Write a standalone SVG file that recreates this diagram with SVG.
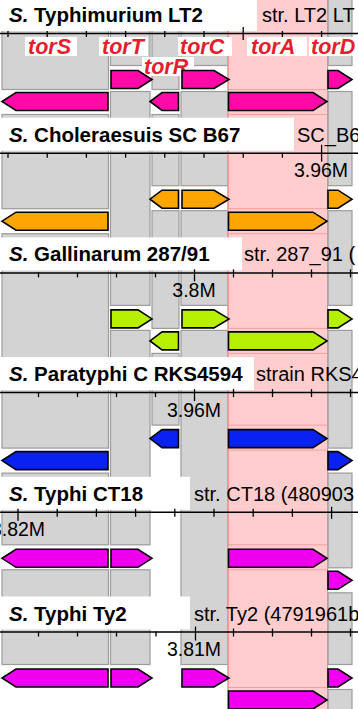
<svg xmlns="http://www.w3.org/2000/svg" width="358" height="709" viewBox="0 0 358 709">
<defs>
<style>
.gb{fill:#d3d3d3;stroke:#9c9c9c;stroke-width:1.2}
.pk{fill:#ffcdcd;stroke:#f2a0a0;stroke-width:1}
.tb{fill:#fff}
.ttl{font-family:"Liberation Sans",Arial,sans-serif;font-weight:bold;font-size:20.5px;fill:#000}
.str{font-family:"Liberation Sans",Arial,sans-serif;font-size:20px;fill:#000}
.pos{font-family:"Liberation Sans",Arial,sans-serif;font-size:19.5px;fill:#000;text-anchor:middle}
.lbl{font-family:"Liberation Sans",Arial,sans-serif;font-weight:bold;font-style:italic;font-size:21.5px;fill:#e3202b}
.ax{stroke:#000;stroke-width:1.5}
.tk{stroke:#000;stroke-width:1.3}
.g{stroke:#000;stroke-width:1.6;stroke-linejoin:miter}
.r1{fill:#ff0aa8}.r2{fill:#ffa500}.r3{fill:#b6f000}.r4{fill:#0a22f0}.r5{fill:#ee00ee}.r6{fill:#f000ee}
</style>
<path id="torS_T" d="M108,70.5 H16 L2,79.5 L16,88.5 H108 Z"/>
<path id="torS_B" d="M108,92.5 H16 L2,101.5 L16,110.5 H108 Z"/>
<path id="torT_T" d="M111,70.5 H138 L152,79.5 L138,88.5 H111 Z"/>
<path id="torR_T" d="M178.5,70.5 H162 L150,79.5 L162,88.5 H178.5 Z"/>
<path id="torR_B" d="M178.5,92.5 H162 L150,101.5 L162,110.5 H178.5 Z"/>
<path id="torC_T" d="M182,70.5 H214 L229,79.5 L214,88.5 H182 Z"/>
<path id="torA_T" d="M228.5,70.5 H313 L327,79.5 L313,88.5 H228.5 Z"/>
<path id="torA_B" d="M228.5,92.5 H313 L327,101.5 L313,110.5 H228.5 Z"/>
<path id="torD_T" d="M328,70.5 H338 L352,79.5 L338,88.5 H328 Z"/>
<path id="torD_B" d="M328,92.5 H338 L352,101.5 L338,110.5 H328 Z"/>
</defs>
<rect width="358" height="709" fill="#fff"/>

<g id="columns">
<g id="col-torS">
<rect class="gb" x="2" y="-2" width="106.5" height="91.5"/>
<rect class="gb" x="2" y="114.5" width="106.5" height="94.2"/>
<rect class="gb" x="2" y="233.7" width="106.5" height="214.4"/>
<rect class="gb" x="2" y="473.1" width="106.5" height="71.7"/>
<rect class="gb" x="2" y="569.8" width="106.5" height="94.7"/>
</g>
<g id="col-torT">
<rect class="gb" x="110.5" y="-2" width="39.5" height="67.5"/>
<rect class="gb" x="110.5" y="91.5" width="39.5" height="213.9"/>
<rect class="gb" x="110.5" y="330.4" width="39.5" height="214.4"/>
<rect class="gb" x="110.5" y="569.8" width="39.5" height="94.7"/>
</g>
<g id="col-torR">
<rect class="gb" x="152" y="-2" width="27" height="91.5"/>
<rect class="gb" x="152" y="114.5" width="27" height="71.2"/>
<rect class="gb" x="152" y="210.7" width="27" height="117.7"/>
<rect class="gb" x="152" y="353.4" width="27" height="71.7"/>
</g>
<g id="col-torC">
<rect class="gb" x="181" y="-2" width="47" height="67.5"/>
<rect class="gb" x="181" y="91.5" width="47" height="94.2"/>
<rect class="gb" x="181" y="210.7" width="47" height="94.7"/>
<rect class="gb" x="181" y="330.4" width="47" height="334.1"/>
</g>
<g id="col-torA">
<rect x="228" y="0" width="99.5" height="709" fill="#ffcdcd"/>
<rect class="pk" x="228" y="-2" width="99.5" height="91.5"/>
<rect class="pk" x="228" y="114.5" width="99.5" height="94.2"/>
<rect class="pk" x="228" y="233.7" width="99.5" height="94.7"/>
<rect class="pk" x="228" y="353.4" width="99.5" height="71.7"/>
<rect class="pk" x="228" y="450.1" width="99.5" height="94.7"/>
<rect class="pk" x="228" y="569.8" width="99.5" height="117.7"/>
<line x1="228" y1="0" x2="228" y2="709" stroke="#ef8e8e" stroke-width="1.2"/>
</g>
<g id="col-torD">
<rect class="gb" x="328" y="-2" width="24" height="67.5"/>
<rect class="gb" x="328" y="91.5" width="24" height="94.2"/>
<rect class="gb" x="328" y="210.7" width="24" height="94.7"/>
<rect class="gb" x="328" y="330.4" width="24" height="117.7"/>
<rect class="gb" x="328" y="473.1" width="24" height="94.7"/>
<rect class="gb" x="328" y="592.8" width="24" height="71.7"/>
<rect class="gb" x="328" y="689.5" width="24" height="22"/>
<line x1="327.6" y1="0" x2="327.6" y2="709" stroke="#c49a9a" stroke-width="1.2"/>
</g>
</g>

<g id="genome1">
<rect class="tb" x="0" y="-2" width="257" height="33"/>
<text class="ttl" x="9" y="22"><tspan font-style="italic">S.</tspan> Typhimurium LT2</text>
<text class="str" x="262" y="22">str. LT2 LT</text>
<line class="ax" x1="0" y1="33.5" x2="358" y2="33.5"/>
<g class="tk"><line x1="8" y1="31" x2="8" y2="37"/><line x1="47.2" y1="31" x2="47.2" y2="37"/><line x1="86.4" y1="31" x2="86.4" y2="37"/><line x1="125.6" y1="31" x2="125.6" y2="37"/><line x1="164.8" y1="31" x2="164.8" y2="37"/><line x1="204" y1="31" x2="204" y2="37"/><line x1="243.2" y1="27" x2="243.2" y2="40"/><line x1="282.4" y1="31" x2="282.4" y2="37"/><line x1="321.6" y1="31" x2="321.6" y2="37"/></g>
<g id="labels">
<rect class="tb" x="25" y="37" width="52" height="19"/><text class="lbl" x="28" y="53.5">torS</text>
<rect class="tb" x="99" y="37" width="49" height="19"/><text class="lbl" x="102" y="53.5">torT</text>
<rect class="tb" x="178" y="37" width="54" height="19"/><text class="lbl" x="180" y="53.5">torC</text>
<rect class="tb" x="247" y="37" width="60" height="19"/><text class="lbl" x="251" y="53.5">torA</text>
<rect class="tb" x="309" y="37" width="49" height="19"/><text class="lbl" x="311" y="53.5">torD</text>
<rect class="tb" x="142" y="57" width="52" height="19"/><text class="lbl" x="144" y="74">torR</text>
</g>
<g class="g r1"><use href="#torT_T"/><use href="#torC_T"/><use href="#torD_T"/><use href="#torS_B"/><use href="#torR_B"/><use href="#torA_B"/></g>
</g>

<g id="genome2" transform="translate(0,119.7)">
<rect class="tb" x="0" y="-2" width="294" height="33"/>
<text class="ttl" x="9" y="22"><tspan font-style="italic">S.</tspan> Choleraesuis SC B67</text>
<text class="str" x="297" y="22">SC_B6</text>
<line class="ax" x1="0" y1="33.5" x2="358" y2="33.5"/>
<g class="tk"><line x1="8" y1="33" x2="8" y2="38"/><line x1="47.2" y1="33" x2="47.2" y2="38"/><line x1="86.4" y1="33" x2="86.4" y2="38"/><line x1="125.6" y1="33" x2="125.6" y2="38"/><line x1="164.8" y1="33" x2="164.8" y2="38"/><line x1="204" y1="33" x2="204" y2="38"/><line x1="243.2" y1="33" x2="243.2" y2="38"/><line x1="282.4" y1="33" x2="282.4" y2="38"/><line x1="321.6" y1="25" x2="321.6" y2="42"/></g>
<text class="pos" x="321" y="57.5">3.96M</text>
<g class="g r2"><use href="#torR_T"/><use href="#torC_T"/><use href="#torD_T"/><use href="#torS_B"/><use href="#torA_B"/></g>
</g>

<g id="genome3" transform="translate(0,239.4)">
<rect class="tb" x="0" y="-2" width="242" height="33"/>
<text class="ttl" x="9" y="22"><tspan font-style="italic">S.</tspan> Gallinarum 287/91</text>
<text class="str" x="244" y="22">str. 287_91 (</text>
<line class="ax" x1="0" y1="33.5" x2="358" y2="33.5"/>
<g class="tk"><line x1="38.5" y1="33" x2="38.5" y2="38"/><line x1="77.5" y1="33" x2="77.5" y2="38"/><line x1="116.5" y1="33" x2="116.5" y2="38"/><line x1="155.5" y1="33" x2="155.5" y2="38"/><line x1="194.5" y1="30" x2="194.5" y2="42"/><line x1="233.5" y1="30" x2="233.5" y2="38"/><line x1="272.5" y1="30" x2="272.5" y2="38"/><line x1="311.5" y1="30" x2="311.5" y2="38"/><line x1="350.5" y1="30" x2="350.5" y2="38"/></g>
<text class="pos" x="194" y="57.5">3.8M</text>
<g class="g r3"><use href="#torT_T"/><use href="#torC_T"/><use href="#torD_T"/><use href="#torR_B"/><use href="#torA_B"/></g>
</g>

<g id="genome4" transform="translate(0,359.1)">
<rect class="tb" x="0" y="-2" width="254" height="33"/>
<text class="ttl" x="9" y="22"><tspan font-style="italic">S.</tspan> Paratyphi C RKS4594</text>
<text class="str" x="256" y="22">strain RKS4</text>
<line class="ax" x1="0" y1="33.5" x2="358" y2="33.5"/>
<g class="tk"><line x1="38.5" y1="33" x2="38.5" y2="38"/><line x1="77.5" y1="33" x2="77.5" y2="38"/><line x1="116.5" y1="33" x2="116.5" y2="38"/><line x1="155.5" y1="33" x2="155.5" y2="38"/><line x1="194.5" y1="30" x2="194.5" y2="42"/><line x1="233.5" y1="30" x2="233.5" y2="38"/><line x1="272.5" y1="30" x2="272.5" y2="38"/><line x1="311.5" y1="30" x2="311.5" y2="38"/><line x1="350.5" y1="30" x2="350.5" y2="38"/></g>
<text class="pos" x="194" y="57.5">3.96M</text>
<g class="g r4"><use href="#torR_T"/><use href="#torA_T"/><use href="#torS_B"/><use href="#torD_B"/></g>
</g>

<g id="genome5" transform="translate(0,478.8)">
<rect class="tb" x="0" y="-2" width="190" height="33"/>
<text class="ttl" x="9" y="22"><tspan font-style="italic">S.</tspan> Typhi CT18</text>
<text class="str" x="194" y="22">str. CT18 (480903</text>
<line class="ax" x1="0" y1="33.5" x2="358" y2="33.5"/>
<g class="tk"><line x1="18" y1="30" x2="18" y2="42"/><line x1="57.2" y1="30" x2="57.2" y2="38"/><line x1="96.4" y1="30" x2="96.4" y2="38"/><line x1="135.6" y1="30" x2="135.6" y2="38"/><line x1="174.8" y1="30" x2="174.8" y2="38"/><line x1="214" y1="30" x2="214" y2="38"/><line x1="253.2" y1="30" x2="253.2" y2="38"/><line x1="292.4" y1="30" x2="292.4" y2="38"/><line x1="331.6" y1="28" x2="331.6" y2="40"/></g>
<text class="pos" x="18" y="57.5">3.82M</text>
<g class="g r5"><use href="#torS_T"/><use href="#torT_T"/><use href="#torA_T"/><use href="#torD_B"/></g>
</g>

<g id="genome6" transform="translate(0,598.5)">
<rect class="tb" x="0" y="-2" width="190" height="33"/>
<text class="ttl" x="9" y="22"><tspan font-style="italic">S.</tspan> Typhi Ty2</text>
<text class="str" x="194" y="22">str. Ty2 (4791961b</text>
<line class="ax" x1="0" y1="33.5" x2="358" y2="33.5"/>
<g class="tk"><line x1="38.5" y1="33" x2="38.5" y2="38"/><line x1="77.5" y1="33" x2="77.5" y2="38"/><line x1="116.5" y1="33" x2="116.5" y2="38"/><line x1="156" y1="33" x2="156" y2="38"/><line x1="195.5" y1="28" x2="195.5" y2="42"/><line x1="233.5" y1="30" x2="233.5" y2="38"/><line x1="272.5" y1="30" x2="272.5" y2="38"/><line x1="311.5" y1="30" x2="311.5" y2="38"/><line x1="350.5" y1="30" x2="350.5" y2="38"/></g>
<text class="pos" x="194" y="57.5">3.81M</text>
<g class="g r6"><use href="#torS_T"/><use href="#torT_T"/><use href="#torC_T"/><use href="#torD_T"/><use href="#torA_B"/></g>
</g>
</svg>
